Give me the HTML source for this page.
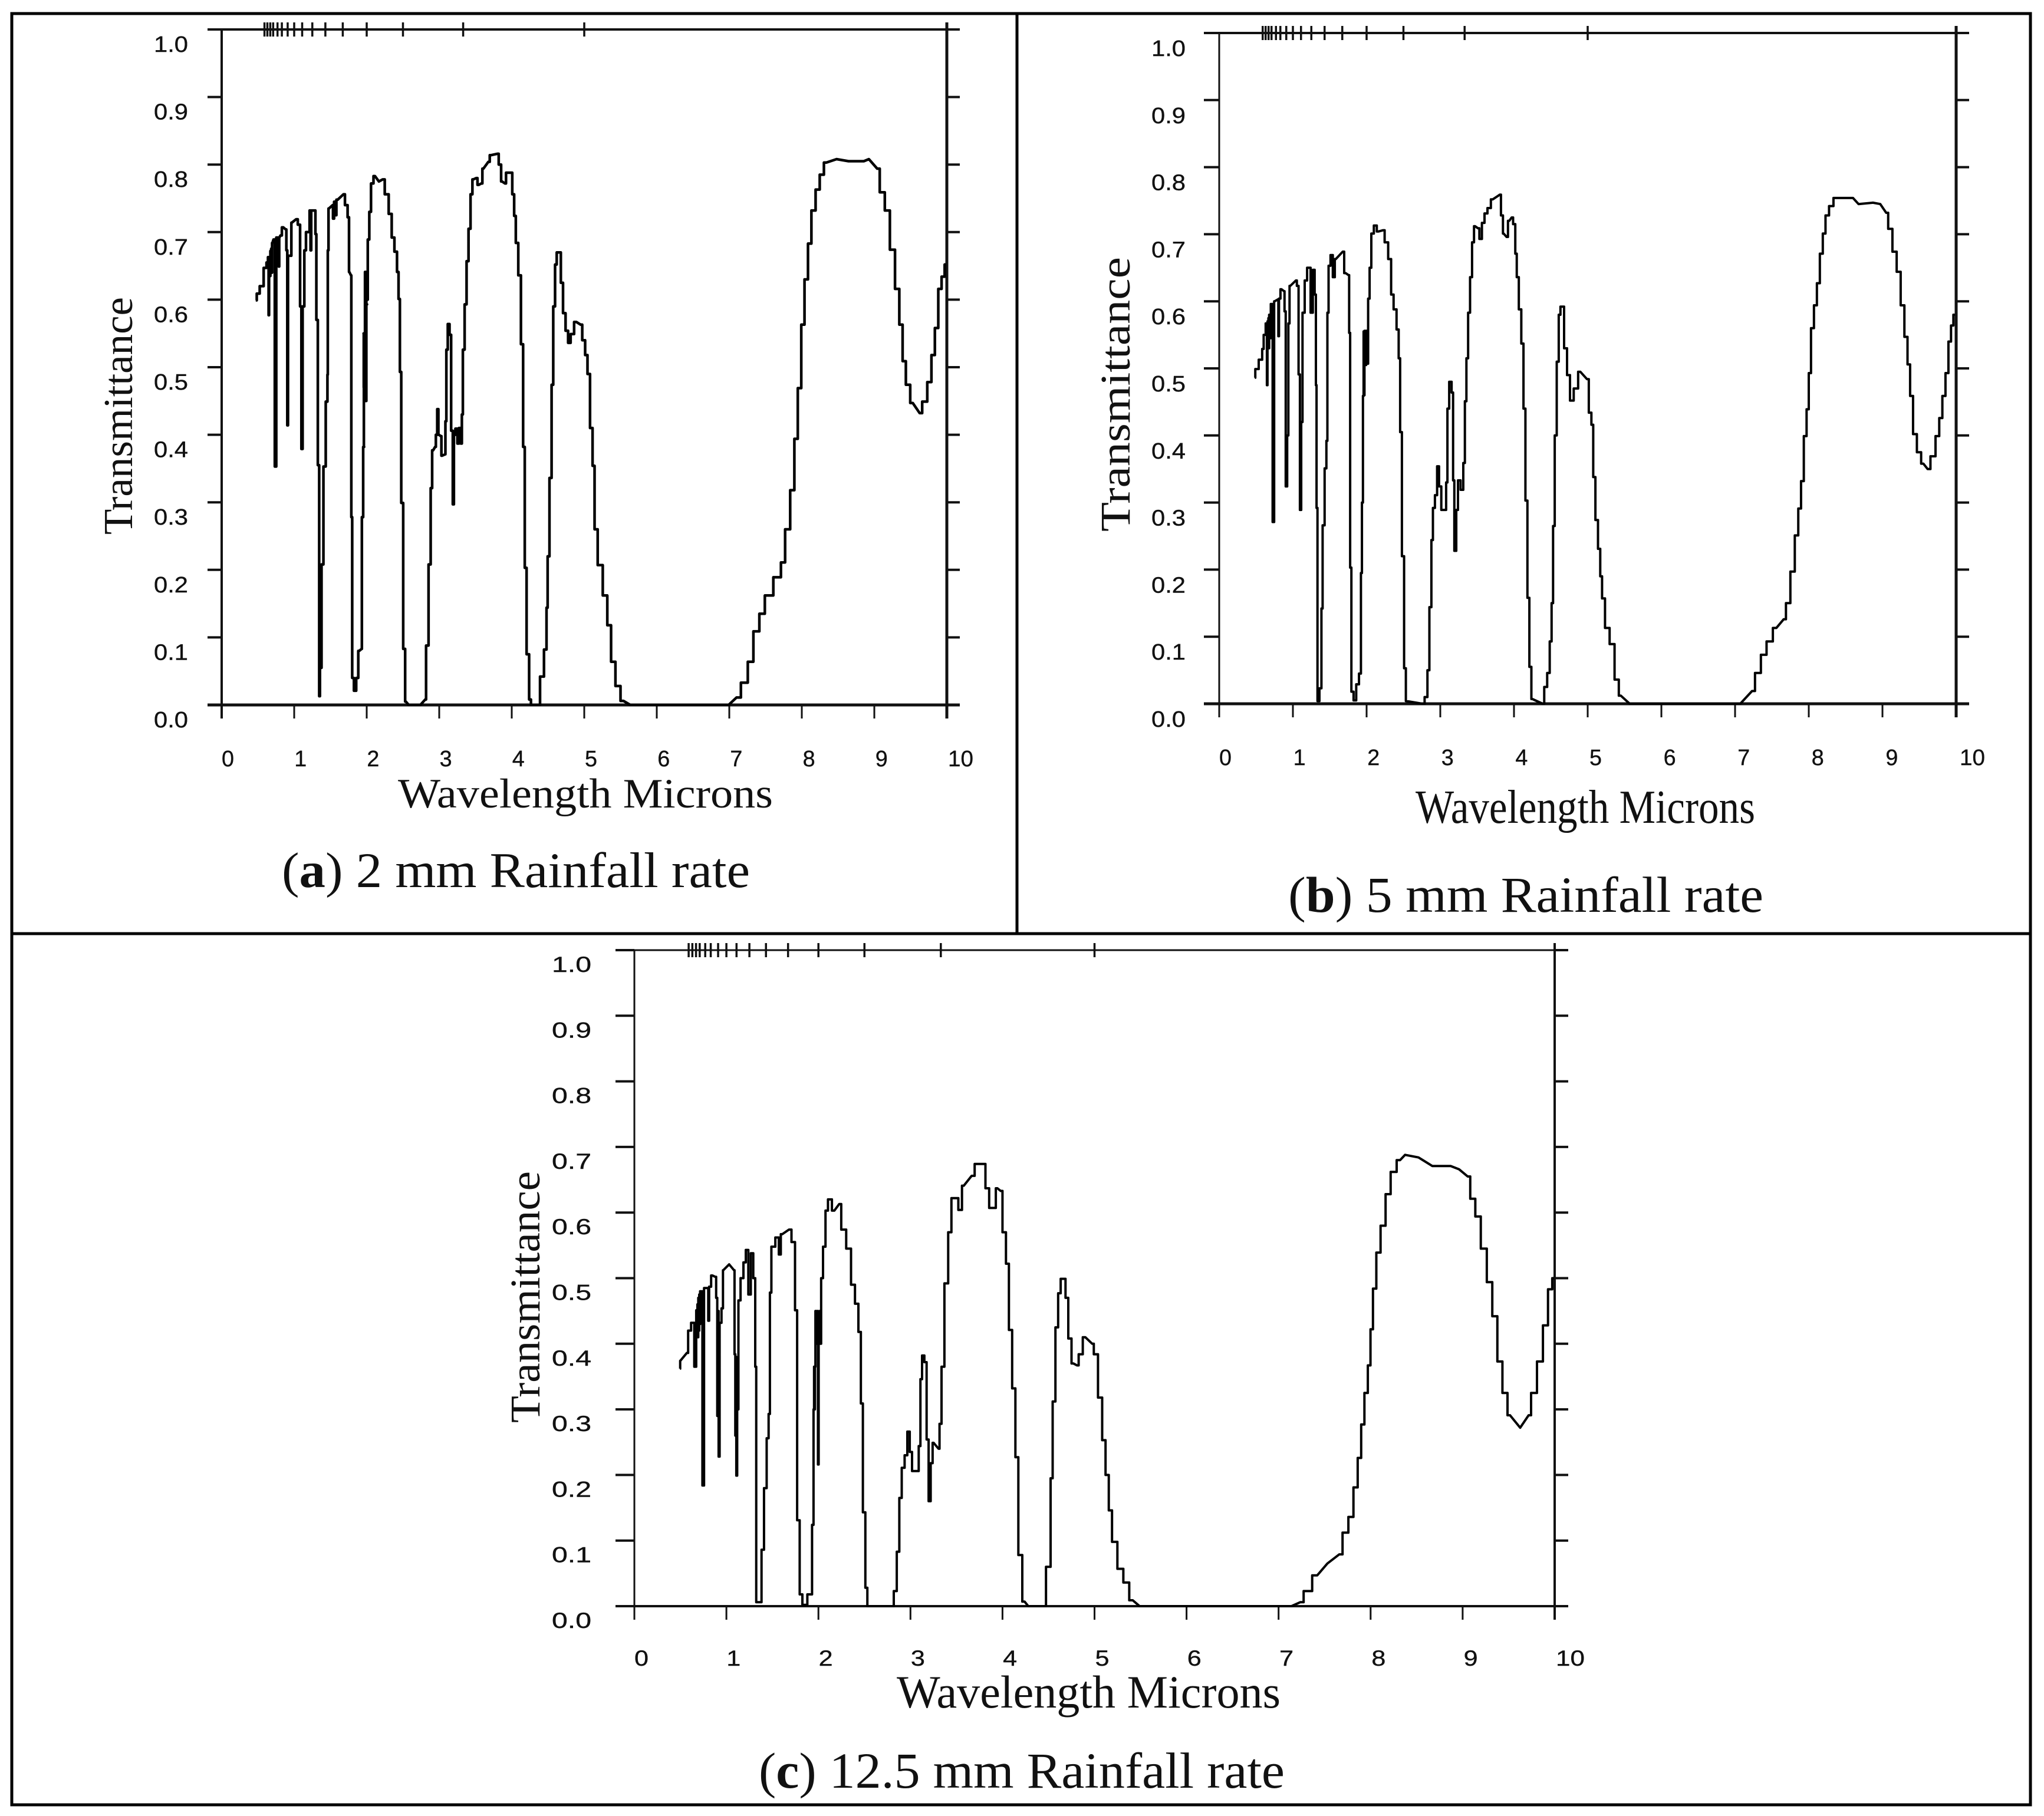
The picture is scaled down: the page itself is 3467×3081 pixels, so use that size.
<!DOCTYPE html>
<html lang="en">
<head>
<meta charset="utf-8">
<title>Transmittance vs wavelength at three rainfall rates</title>
<style>
html,body{margin:0;padding:0;background:#fff;}
svg{display:block;}
.serif{font-family:"Liberation Serif",serif;fill:#111;}
.tick-label{font-family:"Liberation Sans",sans-serif;fill:#111;stroke:#111;stroke-width:0.4;}
</style>
</head>
<body>
<svg id="figure" xmlns="http://www.w3.org/2000/svg" width="3467" height="3081" viewBox="0 0 3467 3081">
  <rect x="0" y="0" width="3467" height="3081" fill="#fff"/>
  <rect x="20" y="23" width="3424" height="3039" fill="none" stroke="#000" stroke-width="5"/>
  <line x1="20" y1="1584" x2="3444" y2="1584" stroke="#000" stroke-width="5"/>
  <line x1="1725" y1="23" x2="1725" y2="1584" stroke="#000" stroke-width="5"/>

  <g id="panel-a"></g>
  <g id="panel-b"></g>
  <g id="panel-c"></g>

  <text class="serif" transform="translate(224,907) rotate(-90)" font-size="70" textLength="403" lengthAdjust="spacingAndGlyphs">Transmittance</text>
  <text class="serif" x="675" y="1370" font-size="71" textLength="636" lengthAdjust="spacingAndGlyphs">Wavelength Microns</text>
  <text class="serif" x="478" y="1505" font-size="85" textLength="794" lengthAdjust="spacingAndGlyphs">(<tspan font-weight="bold">a</tspan>) 2 mm Rainfall rate</text>

  <text class="serif" transform="translate(1916,902) rotate(-90)" font-size="72" textLength="466" lengthAdjust="spacingAndGlyphs">Transmittance</text>
  <text class="serif" x="2401" y="1396" font-size="80" textLength="576" lengthAdjust="spacingAndGlyphs">Wavelength Microns</text>
  <text class="serif" x="2185" y="1547" font-size="86" textLength="806" lengthAdjust="spacingAndGlyphs">(<tspan font-weight="bold">b</tspan>) 5 mm Rainfall rate</text>

  <text class="serif" transform="translate(915,2414) rotate(-90)" font-size="72" textLength="427" lengthAdjust="spacingAndGlyphs">Transmittance</text>
  <text class="serif" x="1521" y="2897" font-size="78" textLength="651" lengthAdjust="spacingAndGlyphs">Wavelength Microns</text>
  <text class="serif" x="1287" y="3033" font-size="86" textLength="892" lengthAdjust="spacingAndGlyphs">(<tspan font-weight="bold">c</tspan>) 12.5 mm Rainfall rate</text>
</svg>

<script>
const xTicks = [0,1,2,3,4,5,6,7,8,9,10];
const xTickLabels = ['0','1','2','3','4','5','6','7','8','9','10'];
const yTicks = [0,0.1,0.2,0.3,0.4,0.5,0.6,0.7,0.8,0.9,1];
const yTickLabels = ['0.0','0.1','0.2','0.3','0.4','0.5','0.6','0.7','0.8','0.9','1.0'];
const topTickWavelengths = [5,3.33,2.5,2,1.67,1.43,1.25,1.11,1,0.91,0.83,0.77,0.71,0.67,0.63,0.59];

const wavelengthA = [
0.47,0.497,0.552,0.606,0.63,0.647,0.647,0.66,0.665,0.678,0.681,0.684,
0.687,0.69,0.70,0.715,0.75,0.755,0.783,0.79,0.797,0.81,
0.85,0.883,0.90,0.91,0.92,0.932,0.955,0.967,1.027,1.073,
1.09,1.108,1.125,1.155,1.17,1.205,1.22,1.23,1.24,1.285,
1.30,1.312,1.34,1.35,1.36,1.394,1.413,1.457,1.46,1.467,
1.48,1.53,1.54,1.56,1.565,1.6,1.68,1.72,1.753,1.76,
1.783,1.793,1.807,1.84,1.87,1.897,1.93,1.937,1.965,1.957,1.962,1.968,1.975,
1.978,2.005,1.985,2.005,2.025,2.046,2.073,2.114,2.168,2.22,
2.277,2.33,2.36,2.405,2.43,2.448,2.467,2.486,2.52,2.54,
2.58,2.74,2.807,2.83,2.875,2.889,2.916,2.943,2.965,2.98,
2.997,3.02,3.04,3.08,3.09,3.106,3.13,3.155,3.174,3.2,
3.205,3.24,3.26,3.285,3.31,3.315,3.337,3.364,3.39,3.418,
3.446,3.47,3.51,3.546,3.58,3.61,3.677,3.717,3.8,3.84,
3.867,3.907,3.935,3.99,4.024,4.043,4.07,4.11,4.144,4.17,
4.19,4.22,4.26,4.27,4.36,4.42,4.47,4.49,4.5,4.54,
4.56,4.585,4.61,4.63,4.665,4.69,4.725,4.76,4.795,4.83,
4.89,4.95,4.995,5.03,5.06,5.1,5.13,5.155,5.215,5.295,
5.34,5.4,5.46,5.54,5.635,6.99,7.1,7.22,7.29,7.375,
7.455,7.525,7.69,7.735,7.805,7.875,7.92,7.97,8.015,8.06,
8.11,8.155,8.225,8.27,8.34,8.48,8.645,8.855,8.925,9.04,
9.11,9.18,9.25,9.32,9.37,9.41,9.46,9.53,9.625,9.695,
9.765,9.81,9.86,9.905,9.95,9.99];
const transmittanceA = [
0.599,0.609,0.62,0.647,0.655,0.663,0.577,0.66,0.635,0.672,0.64,0.675,
0.676,0.64,0.684,0.689,0.353,0.692,0.692,0.649,0.692,0.695,
0.707,0.704,0.673,0.414,0.665,0.665,0.665,0.714,0.719,0.711,
0.59,0.379,0.59,0.673,0.70,0.70,0.732,0.673,0.732,0.732,
0.697,0.57,0.355,0.013,0.055,0.208,0.353,0.449,0.489,0.673,
0.735,0.74,0.72,0.745,0.725,0.748,0.756,0.74,0.722,0.641,
0.636,0.278,0.04,0.021,0.04,0.08,0.083,0.278,0.382,0.55,0.47,0.55,0.47,
0.641,0.593,0.45,0.60,0.689,0.73,0.772,0.783,0.775,0.778,
0.756,0.727,0.692,0.671,0.641,0.601,0.493,0.299,0.083,0.005,
0,0,0.008,0.088,0.208,0.321,0.377,0.382,0.40,0.438,
0.40,0.398,0.369,0.371,0.42,0.526,0.564,0.548,0.406,0.297,
0.40,0.409,0.387,0.41,0.387,0.43,0.526,0.593,0.657,0.705,
0.756,0.778,0.78,0.77,0.772,0.794,0.804,0.814,0.816,0.80,
0.775,0.772,0.788,0.788,0.756,0.724,0.684,0.636,0.534,0.382,
0.203,0.075,0.008,0,0,0.042,0.082,0.144,0.22,0.336,
0.474,0.59,0.652,0.67,0.67,0.625,0.58,0.554,0.536,0.549,
0.567,0.563,0.54,0.518,0.49,0.41,0.354,0.26,0.207,0.162,
0.118,0.064,0.028,0.006,0,0,0.011,0.033,0.064,0.109,
0.135,0.162,0.189,0.211,0.26,0.318,0.394,0.469,0.563,0.63,
0.683,0.732,0.763,0.785,0.803,0.808,0.805,0.805,0.808,0.794,
0.759,0.732,0.674,0.616,0.563,0.509,0.474,0.447,0.432,0.449,
0.478,0.518,0.558,0.616,0.634,0.652];

const wavelengthB = [
0.483,0.496,0.576,0.59,0.617,0.643,0.651,0.66,0.665,0.67,0.675,0.68,0.684,0.69,
0.71,0.74,0.751,0.80,0.804,0.818,0.845,0.88,0.893,0.912,
0.933,0.944,0.965,1.04,1.067,1.086,1.105,1.12,1.14,1.18,
1.206,1.22,1.26,1.28,1.31,1.314,1.327,1.34,1.38,1.394,
1.413,1.448,1.461,1.475,1.493,1.528,1.555,1.582,1.676,1.716,
1.756,1.77,1.783,1.804,1.842,1.877,1.917,1.93,1.944,1.957,1.962,1.968,1.975,
1.984,1.99,1.998,2.01,2.032,2.05,2.078,2.118,2.158,2.225,2.265,2.32,
2.346,2.386,2.426,2.445,2.466,2.493,2.525,2.54,2.76,2.815,
2.836,2.868,2.89,2.91,2.944,2.97,2.997,3.03,3.07,3.088,
3.105,3.137,3.17,3.177,3.204,3.23,3.25,3.3,3.324,3.343,
3.365,3.39,3.418,3.445,3.47,3.51,3.55,3.58,3.62,3.66,
3.713,3.807,3.84,3.86,3.9,3.936,3.968,4.008,4.027,4.048,
4.083,4.115,4.142,4.169,4.196,4.222,4.25,4.39,4.43,4.47,
4.5,4.52,4.54,4.565,4.595,4.62,4.64,4.66,4.70,4.74,
4.78,4.84,4.9,4.99,5.04,5.06,5.09,5.12,5.16,5.18,
5.21,5.26,5.335,5.395,5.45,5.57,7.07,7.23,7.31,7.39,
7.465,7.56,7.66,7.72,7.78,7.84,7.875,7.915,7.95,7.99,
8.01,8.05,8.09,8.13,8.17,8.21,8.245,8.305,8.365,8.6,
8.675,8.87,8.97,9.05,9.105,9.165,9.22,9.275,9.32,9.36,
9.39,9.44,9.495,9.555,9.613,9.69,9.75,9.79,9.835,9.875,
9.915,9.945,9.98];
const transmittanceB = [
0.486,0.499,0.513,0.529,0.55,0.567,0.475,0.57,0.53,0.575,0.53,0.58,0.577,0.545,
0.596,0.271,0.60,0.603,0.548,0.604,0.618,0.615,0.585,0.324,
0.40,0.567,0.623,0.631,0.623,0.491,0.289,0.42,0.583,0.631,
0.65,0.65,0.583,0.647,0.61,0.475,0.292,0.004,0.023,0.142,
0.266,0.351,0.392,0.583,0.653,0.669,0.636,0.663,0.674,0.642,
0.639,0.553,0.203,0.018,0.005,0.029,0.045,0.195,0.30,0.459,0.555,0.46,0.556,
0.556,0.505,0.556,0.507,0.604,0.65,0.701,0.713,0.704,0.706,0.688,0.663,
0.61,0.588,0.558,0.515,0.405,0.22,0.053,0.004,0,0.01,
0.05,0.144,0.244,0.292,0.311,0.354,0.324,0.289,0.289,0.33,
0.44,0.48,0.464,0.333,0.228,0.289,0.333,0.319,0.359,0.451,
0.515,0.583,0.636,0.688,0.712,0.709,0.693,0.717,0.731,0.739,
0.752,0.759,0.728,0.701,0.696,0.72,0.725,0.715,0.671,0.636,
0.588,0.537,0.44,0.303,0.158,0.055,0.007,0,0.025,0.046,
0.093,0.15,0.265,0.40,0.51,0.58,0.592,0.592,0.53,0.49,
0.452,0.47,0.495,0.484,0.434,0.416,0.338,0.274,0.231,0.19,
0.157,0.113,0.089,0.036,0.012,0,0,0.019,0.046,0.073,
0.093,0.113,0.126,0.15,0.197,0.251,0.291,0.332,0.399,0.439,
0.493,0.56,0.594,0.627,0.671,0.701,0.728,0.742,0.754,0.754,
0.745,0.747,0.745,0.732,0.708,0.674,0.644,0.594,0.547,0.506,
0.459,0.402,0.375,0.358,0.35,0.369,0.399,0.426,0.459,0.493,
0.54,0.564,0.58];

const wavelengthC = [
0.496,0.5,0.57,0.598,0.635,0.667,0.677,0.682,0.687,0.692,0.697,0.702,0.707,0.712,0.717,0.722,0.727,0.752,
0.763,0.80,0.805,0.82,0.848,0.88,0.897,0.905,0.912,0.919,0.934,0.96,
0.966,1.03,1.083,1.094,1.10,1.105,1.11,1.125,1.137,1.17,1.2,1.222,
1.254,1.276,1.308,1.318,1.33,1.37,1.393,1.425,1.45,1.468,
1.478,1.5,1.564,1.575,1.607,1.68,1.735,1.756,1.782,1.81,
1.842,1.917,1.944,1.95,1.955,1.96,1.965,1.97,1.98,1.99,2.0,2.005,2.02,2.025,2.034,2.066,2.088,2.12,
2.173,2.226,2.27,2.333,2.376,2.419,2.45,2.472,2.494,2.526,
2.537,2.803,2.835,2.868,2.89,2.92,2.953,2.979,3.006,3.028,
3.08,3.1,3.117,3.135,3.167,3.184,3.21,3.23,3.252,3.305,
3.327,3.348,3.39,3.43,3.46,3.5,3.54,3.58,3.665,3.73,
3.79,3.84,3.87,3.91,3.945,3.98,4.02,4.055,4.085,4.125,
4.155,4.19,4.24,4.28,4.36,4.43,4.515,4.53,4.56,4.59,
4.62,4.645,4.67,4.7,4.73,4.77,4.81,4.845,4.9,4.975,
5.01,5.066,5.1,5.14,5.17,5.21,5.287,5.34,5.415,5.49,
7.14,7.235,7.31,7.42,7.53,7.66,7.73,7.787,7.84,7.88,
7.915,7.95,7.99,8.007,8.044,8.08,8.136,8.19,8.246,8.32,
8.375,8.52,8.67,8.87,8.96,9.055,9.11,9.165,9.23,9.295,
9.35,9.405,9.46,9.515,9.625,9.717,9.77,9.845,9.9,9.955,
9.993];
const transmittanceC = [
0.362,0.374,0.386,0.42,0.432,0.365,0.451,0.41,0.46,0.41,0.47,0.42,0.475,0.43,0.48,0.44,0.48,0.184,
0.485,0.485,0.435,0.487,0.504,0.502,0.47,0.29,0.45,0.228,0.432,0.454,
0.512,0.521,0.512,0.384,0.26,0.38,0.199,0.30,0.466,0.50,0.524,0.543,
0.475,0.538,0.50,0.365,0.006,0.006,0.086,0.18,0.256,0.293,
0.478,0.548,0.562,0.536,0.567,0.574,0.555,0.451,0.131,0.018,
0.002,0.018,0.124,0.30,0.365,0.30,0.365,0.45,0.40,0.45,0.216,0.40,0.45,0.40,0.50,0.548,0.603,0.62,
0.603,0.613,0.574,0.545,0.49,0.461,0.418,0.309,0.143,0.028,
0,0,0.023,0.083,0.165,0.211,0.23,0.266,0.235,0.206,
0.206,0.244,0.346,0.382,0.372,0.254,0.16,0.218,0.249,0.24,
0.278,0.365,0.492,0.57,0.622,0.622,0.604,0.641,0.656,0.674,
0.674,0.637,0.607,0.607,0.637,0.633,0.57,0.522,0.421,0.332,
0.227,0.078,0.007,0,0,0,0.06,0.195,0.312,0.425,
0.477,0.499,0.499,0.47,0.408,0.37,0.367,0.384,0.41,0.40,
0.384,0.318,0.253,0.20,0.146,0.098,0.057,0.036,0.009,0,
0,0.006,0.023,0.047,0.065,0.079,0.112,0.136,0.181,0.226,
0.277,0.325,0.367,0.422,0.484,0.539,0.58,0.628,0.662,0.68,
0.688,0.684,0.671,0.671,0.666,0.655,0.621,0.594,0.545,0.494,
0.442,0.373,0.325,0.291,0.272,0.291,0.325,0.373,0.428,0.483,
0.50];

const SVG_NS = 'http://www.w3.org/2000/svg';

function makeLine(parent, x1, y1, x2, y2, width) {
  const el = document.createElementNS(SVG_NS, 'line');
  el.setAttribute('x1', x1);
  el.setAttribute('y1', y1);
  el.setAttribute('x2', x2);
  el.setAttribute('y2', y2);
  el.setAttribute('stroke', '#111');
  el.setAttribute('stroke-width', width);
  parent.appendChild(el);
  return el;
}

function makeLabel(parent, x, y, size, length, content) {
  const el = document.createElementNS(SVG_NS, 'text');
  el.setAttribute('class', 'tick-label');
  el.setAttribute('x', x);
  el.setAttribute('y', y);
  el.setAttribute('font-size', size);
  el.setAttribute('textLength', length);
  el.setAttribute('lengthAdjust', 'spacingAndGlyphs');
  el.textContent = content;
  parent.appendChild(el);
  return el;
}

function curvePath(xs, ys) {
  let d = 'M' + xs[0].toFixed(1) + ' ' + ys[0].toFixed(1);
  for (let i = 1; i < xs.length; i++) {
    const dx = xs[i] - xs[i - 1];
    const dy = ys[i] - ys[i - 1];
    if (Math.abs(dy) > 1.5 * Math.abs(dx) && Math.abs(dy) > 6) {
      const mid = (xs[i] + xs[i - 1]) / 2;
      d += 'H' + mid.toFixed(1) + 'V' + ys[i].toFixed(1) + 'H' + xs[i].toFixed(1);
    } else {
      d += 'L' + xs[i].toFixed(1) + ' ' + ys[i].toFixed(1);
    }
  }
  return d;
}

function drawPanel(cfg, wavelengths, transmittance) {
  const g = document.getElementById(cfg.id);
  const xScale = w => cfg.x0 + (cfg.x1 - cfg.x0) * w / 10;
  const yScale = t => cfg.yBase + (cfg.yTop - cfg.yBase) * t;

  const baseLine = makeLine(g, cfg.tickLeft, yScale(0), cfg.tickRight, yScale(0), cfg.baseWidth);
  
  
  const topLine = makeLine(g, cfg.tickLeft, yScale(1), cfg.tickRight, yScale(1), cfg.topWidth);
  
  
  const leftLine = makeLine(g, xScale(0), yScale(1), xScale(0), yScale(0) + 23, cfg.leftWidth);
  
  
  const rightLine = makeLine(g, xScale(10), yScale(1) - 12, xScale(10), yScale(0) + 23, cfg.rightWidth);
  
  

  yTicks.forEach((t, i) => {
    const left = makeLine(g, cfg.tickLeft, yScale(t), xScale(0), yScale(t), 4);
    
    
    const right = makeLine(g, xScale(10), yScale(t), cfg.tickRight, yScale(t), 4);
    
    
    const label = makeLabel(g, cfg.yLabelX, yScale(t) + cfg.yLabelDy, cfg.fontSize, cfg.yLabelLen, yTickLabels[i]);
    
    
  });

  xTicks.forEach((w, i) => {
    const tick = makeLine(g, xScale(w), yScale(0), xScale(w), yScale(0) + 23, 3);
    
    
    const labelLen = xTickLabels[i].length === 1 ? cfg.digitLen : cfg.digitLen * 2 + 1;
    const label = makeLabel(g, xScale(w) + cfg.xLabelDx + cfg.xLabelDrift * w, cfg.xLabelY, cfg.fontSize, labelLen, xTickLabels[i]);
    
    
  });

  topTickWavelengths.forEach(w => {
    const tick = makeLine(g, xScale(w), yScale(1) - 12, xScale(w), yScale(1) + 12, 3.5);
    
    
  });

  const curve = document.createElementNS(SVG_NS, 'path');
  
  
  curve.setAttribute('fill', 'none');
  curve.setAttribute('stroke', '#000');
  curve.setAttribute('stroke-width', cfg.curveWidth);
  curve.setAttribute('stroke-linejoin', 'round');
  curve.setAttribute('d', curvePath(wavelengths.map(xScale), transmittance.map(yScale)));
  g.appendChild(curve);
}

drawPanel({id:'panel-a', x0:376, x1:1606, yBase:1196, yTop:50, tickLeft:352, tickRight:1628,
  baseWidth:5, topWidth:4, leftWidth:4, rightWidth:5, yLabelX:261, yLabelDy:38, yLabelLen:58,
  xLabelY:1300, xLabelDx:0, xLabelDrift:0.2, digitLen:21, fontSize:38, curveWidth:4.5}, wavelengthA, transmittanceA);
drawPanel({id:'panel-b', x0:2068, x1:3318, yBase:1194, yTop:56, tickLeft:2042, tickRight:3340,
  baseWidth:5, topWidth:4, leftWidth:3, rightWidth:5, yLabelX:1953, yLabelDy:39, yLabelLen:58,
  xLabelY:1298, xLabelDx:0, xLabelDrift:0.6, digitLen:21, fontSize:38, curveWidth:4}, wavelengthB, transmittanceB);
drawPanel({id:'panel-c', x0:1076, x1:2637, yBase:2725, yTop:1612, tickLeft:1044, tickRight:2660,
  baseWidth:4, topWidth:3, leftWidth:3, rightWidth:4, yLabelX:936, yLabelDy:37, yLabelLen:67,
  xLabelY:2826, xLabelDx:0, xLabelDrift:0.2, digitLen:24, fontSize:37, curveWidth:4}, wavelengthC, transmittanceC);
</script>
</body>
</html>
